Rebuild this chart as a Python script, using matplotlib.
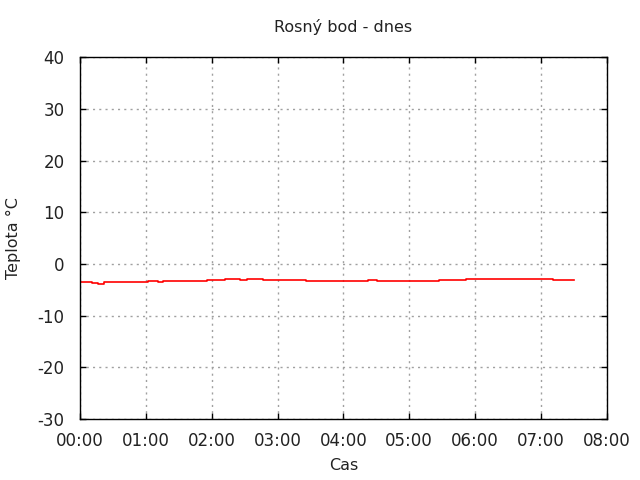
import matplotlib
matplotlib.use("Agg")
import matplotlib.pyplot as plt

# dew point readings (time HH:MM, value in deg C), step-like
times = ["00:00", "00:11", "00:16", "00:22", "01:02", "01:11", "01:16", "01:56",
         "02:12", "02:26", "02:32", "02:47", "03:26", "04:22", "04:31", "05:27",
         "05:52", "07:11", "07:30"]
values = [-3.5, -3.7, -3.9, -3.5, -3.3, -3.5, -3.3, -3.1,
          -2.9, -3.1, -2.9, -3.1, -3.3, -3.1, -3.3, -3.1,
          -2.95, -3.1, -3.1]

xticks = ["00:00", "01:00", "02:00", "03:00", "04:00", "05:00", "06:00", "07:00", "08:00"]

def to_hours(s):
    h, m = s.split(":")
    return int(h) + int(m) / 60

x = [to_hours(t) for t in times]

plt.rcParams["font.family"] = "DejaVu Sans"
plt.rcParams["axes.unicode_minus"] = False
fig = plt.figure(figsize=(6.4, 4.8), dpi=100)
ax = fig.add_axes([0.125, 0.127, 0.823, 0.754])

ax.step(x, values, where="post", color="red", lw=1.2)

ax.set_xlim(0, 8)
ax.set_ylim(-30, 40)
ax.set_xticks(range(9))
ax.set_xticklabels(xticks)
ax.set_yticks(range(-30, 41, 10))
ax.grid(True, color="#a0a0a0", linestyle=(0, (1.5, 3)), lw=1)
ax.tick_params(direction="in", top=True, right=True, labelsize=12, length=4,
               width=1, pad=11, colors="black", labelcolor="#222222")
ax.tick_params(axis="x", pad=9)
for s in ax.spines.values():
    s.set_linewidth(1.0)

ax.set_title("Rosný bod - dnes", fontsize=11.5, pad=18, color="#222222")
ax.set_xlabel("Cas", fontsize=11.5, labelpad=6, color="#222222")
ax.set_ylabel("Teplota °C", fontsize=11.5, labelpad=12, color="#222222")

fig.savefig("out.png")
